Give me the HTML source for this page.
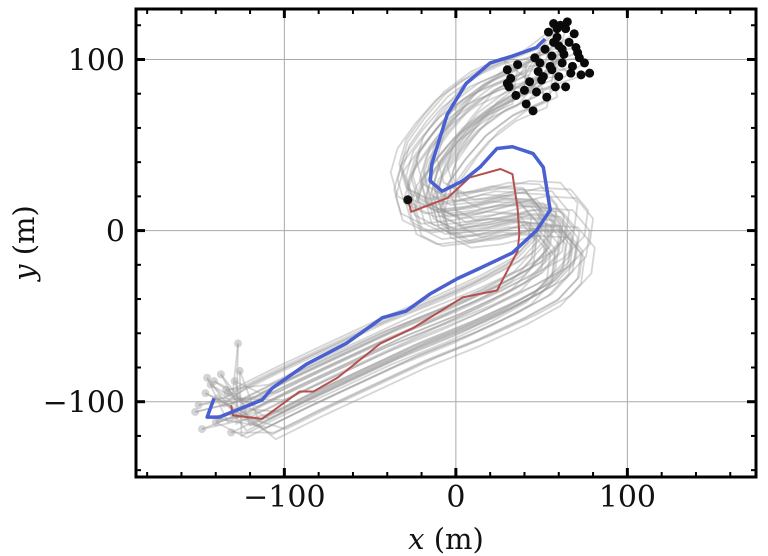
<!DOCTYPE html>
<html><head><meta charset="utf-8"><style>
html,body{margin:0;padding:0;background:#fff;}
svg{display:block;}
text{font-family:"DejaVu Serif","Liberation Serif",serif;fill:#111;}
</style></head><body>
<svg id="chart" width="768" height="556" viewBox="0 0 768 556" xmlns="http://www.w3.org/2000/svg">
<g id="grid"></g>
<g id="gray"></g>
<g id="series"></g>
<g id="axes"></g>
<text x="446" y="549" font-size="29" text-anchor="middle"><tspan font-style="italic">x</tspan> (m)</text>
<text transform="translate(34,243) rotate(-90)" font-size="29" text-anchor="middle"><tspan font-style="italic">y</tspan> (m)</text>
</svg>
<script>
const xTicks=[-100,0,100];
const yTicks=[-100,0,100];
const blueX=[-141,-145,-138,-113,-107,-87,-64,-43,-29,-15,1,14,33,47,55,51,45,33,24,14,4,-8,-15,-14,-5,6,20,33,47,52];
const blueY=[-98,-109,-109,-99,-92,-78,-66,-51,-47,-37,-28,-22,-13,0,12,37,45,49,48,37,29,23,29,39,68,86,98,102,107,112];
const redX=[-28,-26,-5,8,26,33,36,37,36,24,4,-25,-44,-69,-83,-91,-113,-130,-131];
const redY=[18,11,19,31,36,33,13,-2,-12,-35,-39,-57,-66,-86,-94,-94,-110,-108,-102];
const grayX=[58,40,22,6,-6,-16,-20,-16,-4,14,34,52,62,60,48,28,2,-30,-60,-92,-118,-136];
const grayY=[93,88,80,68,54,40,26,12,6,8,13,12,0,-15,-28,-39,-51,-64,-78,-93,-106,-112];
const offDX=[-18,-14,-11,-8,-5,-2,0,3,6,9,12,15,18,-16,-10,-4,2,7,11,-6,1,5,-13,8,-1,4,10,-7,-3,13,6,-9,2,16,-12,-15,9,-4,19,-8];
const offDY=[8,4,10,-3,6,-8,2,-5,-10,-4,-12,12,7,-2,-7,-11,3,1,-13,5,9,-6,13,-9,4,11,-1,-14,15,-16,-3,6,-8,0,12,-6,16,-15,-10,2];
const endX=[-150,-146,-141,-138,-133,-129,-148,-126,-135,-143,-131,-152,-139,-124,-127,-145,-134,-140,-130,-137];
const endY=[-102,-95,-88,-110,-95,-88,-116,-82,-101,-90,-118,-106,-98,-104,-66,-86,-93,-112,-107,-84];
const dotX=[57,66,70,59,52,63,46,62,75,55,48,67,73,71,51,57,43,60,58,69,40,64,53,30,47,56,41,36,54,60,61,72,78,64,32,68,49,62,56,35,45,59,30,50,65,31];
const dotY=[110,110,107,118,106,103,101,98,98,96,93,92,91,104,90,121,87,90,84,115,82,84,78,86,81,94,74,97,116,108,120,101,92,118,89,96,98,106,102,79,70,113,94,88,122,84];
const PL=136,PR=756,PT=9,PB=477,XMIN=-186.5,XMAX=175,YMIN=-144,YMAX=129.5;
function sx(v){return PL+(v-XMIN)/(XMAX-XMIN)*(PR-PL);}
function sy(v){return PB-(v-YMIN)/(YMAX-YMIN)*(PB-PT);}
const NS="http://www.w3.org/2000/svg";
function mk(t,a,p){const e=document.createElementNS(NS,t);for(const k in a)e.setAttribute(k,a[k]);p.appendChild(e);return e;}
function pts(xs,ys,dx,dy){return xs.map((x,i)=>sx(x+(dx||0))+","+sy(ys[i]+(dy||0))).join(" ");}
const grid=document.getElementById('grid');
xTicks.forEach(t=>{const l=mk('line',{x1:sx(t),x2:sx(t),y1:PT,y2:PB,stroke:'#aaa','stroke-width':1},grid);

});
yTicks.forEach(t=>{const l=mk('line',{x1:PL,x2:PR,y1:sy(t),y2:sy(t),stroke:'#aaa','stroke-width':1},grid);

});
const gray=document.getElementById('gray');
offDX.forEach((dx,i)=>{const dy=offDY[i];
const xs=grayX.slice(),ys=grayY.slice();
const n=xs.length;xs[n-1]=endX[i%endX.length]-dx;ys[n-1]=endY[i%endY.length]-dy;
xs[0]=dotX[i%dotX.length]-dx;ys[0]=dotY[i%dotY.length]-dy;
const l=mk('polyline',{points:pts(xs,ys,dx,dy),fill:'none',stroke:'#999','stroke-opacity':0.4,'stroke-width':1.8,'stroke-linejoin':'round'},gray);

});
endX.forEach((x,i)=>{const c=mk('circle',{cx:sx(x),cy:sy(endY[i]),r:4,fill:'#aaa','fill-opacity':0.5},gray);

});
const ser=document.getElementById('series');
const r=mk('polyline',{points:pts(redX,redY),fill:'none',stroke:'#b5504f','stroke-width':2,'stroke-linejoin':'round'},ser);


const b=mk('polyline',{points:pts(blueX,blueY),fill:'none',stroke:'#4a5fd0','stroke-width':3.5,'stroke-linejoin':'round'},ser);


const rd=mk('circle',{cx:sx(redX[0]),cy:sy(redY[0]),r:4.5,fill:'#111'},ser);


dotX.forEach((x,i)=>{const c=mk('circle',{cx:sx(x),cy:sy(dotY[i]),r:4.5,fill:'#0a0a0a'},ser);

});
const ax=document.getElementById('axes');
const fr=mk('rect',{x:PL,y:PT,width:PR-PL,height:PB-PT,fill:'none',stroke:'#000','stroke-width':3},ax);


for(let v=-180;v<=160;v+=20){const maj=v%100===0,L=maj?9:5;
const a=mk('line',{x1:sx(v),x2:sx(v),y1:PB,y2:PB-L,stroke:'#000','stroke-width':maj?3:2},ax);


const c=mk('line',{x1:sx(v),x2:sx(v),y1:PT,y2:PT+L,stroke:'#000','stroke-width':maj?3:2},ax);

}
for(let v=-140;v<=120;v+=20){const maj=v%100===0,L=maj?9:5;
const a=mk('line',{x1:PL,x2:PL+L,y1:sy(v),y2:sy(v),stroke:'#000','stroke-width':maj?3:2},ax);


const c=mk('line',{x1:PR,x2:PR-L,y1:sy(v),y2:sy(v),stroke:'#000','stroke-width':maj?3:2},ax);

}
xTicks.forEach(t=>{const e=mk('text',{x:sx(t),y:507,'font-size':30,'text-anchor':'middle'},ax);e.textContent=t<0?'\u2212'+(-t):String(t);

});
yTicks.forEach(t=>{const e=mk('text',{x:125,y:sy(t)+11,'font-size':30,'text-anchor':'end'},ax);e.textContent=t<0?'\u2212'+(-t):String(t);

});
</script>
</body></html>
